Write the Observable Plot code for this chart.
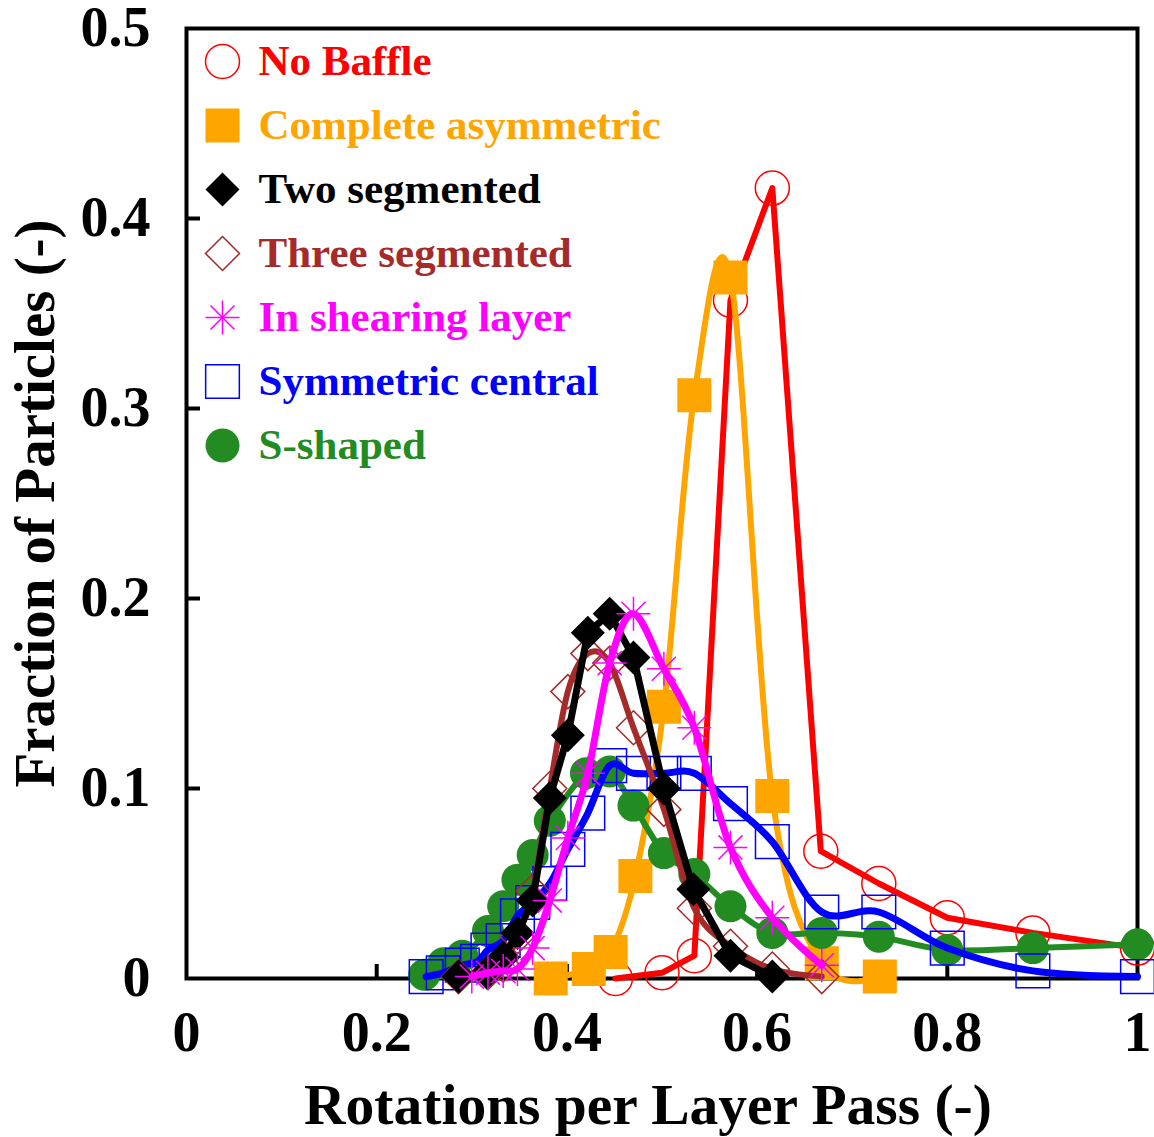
<!DOCTYPE html>
<html><head><meta charset="utf-8">
<script src="https://cdn.jsdelivr.net/npm/d3@7"></script>
<script src="https://cdn.jsdelivr.net/npm/@observablehq/plot@0.6"></script>
<style>
body{margin:0;background:#fff;}
#wrap{position:relative;width:1154px;height:1137px;}
#legend{position:absolute;left:186px;top:28px;}
</style></head><body><div id="wrap"><div id="chart"></div><div id="legend"></div></div>
<script>
const seriesNames = ["No Baffle","Complete asymmetric","Two segmented","Three segmented","In shearing layer","Symmetric central","S-shaped"];
const seriesColors = ["#ff0000","#ffa500","#000000","#a52a2a","#ff00ff","#0000ff","#228b22"];

const xTicks = [0, 0.2, 0.4, 0.6, 0.8, 1];
const yTicks = [0, 0.1, 0.2, 0.3, 0.4, 0.5];

const noBaffleX = [0.451, 0.500, 0.534, 0.572, 0.616, 0.667, 0.728, 0.800, 0.890, 1.0];
const noBaffleY = [0.000, 0.003, 0.012, 0.357, 0.416, 0.067, 0.050, 0.032, 0.024, 0.016];

const completeX = [0.383, 0.423, 0.446, 0.472, 0.502, 0.534, 0.572, 0.616, 0.668, 0.729];
const completeY = [0.000, 0.005, 0.014, 0.054, 0.143, 0.307, 0.369, 0.096, 0.008, 0.001];

const twoSegX = [0.286, 0.316, 0.333, 0.348, 0.364, 0.382, 0.401, 0.422, 0.445, 0.470, 0.502, 0.533, 0.572, 0.616];
const twoSegY = [0.001, 0.003, 0.011, 0.024, 0.041, 0.095, 0.128, 0.182, 0.192, 0.169, 0.100, 0.047, 0.012, 0.001];

const threeSegX = [0.286, 0.317, 0.333, 0.348, 0.364, 0.382, 0.401, 0.422, 0.445, 0.470, 0.502, 0.534, 0.572, 0.616, 0.668];
const threeSegY = [0.001, 0.003, 0.007, 0.022, 0.046, 0.100, 0.151, 0.171, 0.166, 0.132, 0.089, 0.037, 0.017, 0.005, 0.001];

const shearX = [0.300, 0.317, 0.333, 0.348, 0.364, 0.382, 0.401, 0.422, 0.445, 0.470, 0.502, 0.534, 0.572, 0.616, 0.668];
const shearY = [0.001, 0.003, 0.004, 0.005, 0.016, 0.041, 0.074, 0.108, 0.166, 0.192, 0.163, 0.132, 0.069, 0.032, 0.007];

const symX = [0.252, 0.270, 0.290, 0.306, 0.317, 0.333, 0.348, 0.364, 0.382, 0.401, 0.422, 0.445, 0.470, 0.502, 0.534, 0.572, 0.616, 0.668, 0.728, 0.800, 0.890, 1.0];
const symY = [0.001, 0.003, 0.007, 0.009, 0.015, 0.020, 0.033, 0.040, 0.050, 0.068, 0.087, 0.112, 0.108, 0.108, 0.108, 0.092, 0.072, 0.035, 0.035, 0.016, 0.004, 0.001];

const sShapeX = [0.250, 0.270, 0.290, 0.317, 0.333, 0.348, 0.364, 0.382, 0.420, 0.445, 0.470, 0.502, 0.534, 0.572, 0.616, 0.668, 0.728, 0.800, 0.890, 1.0];
const sShapeY = [0.002, 0.008, 0.012, 0.025, 0.038, 0.052, 0.065, 0.083, 0.108, 0.109, 0.091, 0.066, 0.055, 0.038, 0.024, 0.024, 0.022, 0.015, 0.016, 0.018];

const zip = (xs, ys) => xs.map((x, i) => ({x, y: ys[i]}));

const asterisk8 = {
  draw(context, size) {
    const r = Math.sqrt(size / Math.PI), d = r * Math.SQRT1_2;
    context.moveTo(0, -r); context.lineTo(0, r);
    context.moveTo(-r, 0); context.lineTo(r, 0);
    context.moveTo(-d, -d); context.lineTo(d, d);
    context.moveTo(-d, d); context.lineTo(d, -d);
  }
};

const series = [
  {name: seriesNames[0], color: seriesColors[0], data: zip(noBaffleX, noBaffleY), curve: "linear", symbol: "circle", r: 17, filled: false, sw: 6},
  {name: seriesNames[1], color: seriesColors[1], data: zip(completeX, completeY), curve: "cardinal", symbol: "square", r: 19.2, filled: true, sw: 6},
  {name: seriesNames[6], color: seriesColors[6], data: zip(sShapeX, sShapeY), curve: "catmull-rom", symbol: "circle", r: 16, filled: true, sw: 6},
  {name: seriesNames[5], color: seriesColors[5], data: zip(symX, symY), curve: "cardinal", symbol: "square", r: 19, filled: false, sw: 7},
  {name: seriesNames[3], color: seriesColors[3], data: zip(threeSegX, threeSegY), curve: "cardinal", symbol: "diamond2", r: 15.3, filled: false, sw: 6},
  {name: seriesNames[2], color: seriesColors[2], data: zip(twoSegX, twoSegY), curve: "linear", symbol: "diamond2", r: 15.3, filled: true, sw: 7},
  {name: seriesNames[4], color: seriesColors[4], data: zip(shearX, shearY), curve: "catmull-rom", symbol: asterisk8, r: 17, filled: false, sw: 7}
];

const font = "'Liberation Serif', 'Times New Roman', serif";
const marks = [
  Plot.frame({stroke: "black", strokeWidth: 4}),
  Plot.tickX(xTicks.slice(1, -1), {x: d => d, insetTop: 936, stroke: "black", strokeWidth: 4}),
  Plot.tickY(yTicks.slice(1, -1), {y: d => d, insetRight: 937, stroke: "black", strokeWidth: 4}),
  Plot.axisX(xTicks, {tickSize: 0, tickPadding: 33, fontSize: 56, fontWeight: "bold", tickFormat: d => String(d), label: null}),
  Plot.axisY(yTicks, {tickSize: 0, tickPadding: 36, fontSize: 56, fontWeight: "bold", tickFormat: d => String(d), label: null}),
  Plot.text(["Rotations per Layer Pass (-)"], {frameAnchor: "bottom", textAnchor: "middle", lineAnchor: "middle", dx: -14, dy: 127, fontSize: 57.5, fontWeight: "bold", fill: "black"}),
  Plot.text(["Fraction of Particles (-)"], {frameAnchor: "left", textAnchor: "middle", lineAnchor: "middle", dx: -151, rotate: -90, fontSize: 57, fontWeight: "bold", fill: "black"})
];
for (const s of series) {
  marks.push(Plot.line(s.data, {x: "x", y: "y", curve: s.curve, tension: 0, stroke: s.color, strokeWidth: s.sw, strokeLinejoin: "round"}));
  marks.push(Plot.dot(s.data, {x: "x", y: "y", symbol: s.symbol, r: s.r,
    fill: s.filled ? s.color : "none", stroke: s.filled ? "none" : s.color, strokeWidth: 1.5}));
}

const chart = Plot.plot({
  width: 1154, height: 1137,
  marginLeft: 186, marginRight: 17, marginTop: 28, marginBottom: 159,
  x: {domain: [0, 1]},
  y: {domain: [0, 0.5]},
  style: {fontFamily: font, background: "white", overflow: "visible"},
  marks
});
document.getElementById("chart").append(chart);

// legend (in original order)
const legendSymbols = ["circle", "square", "diamond2", "diamond2", asterisk8, "square", "circle"];
const legendR = [17, 19.2, 15.3, 15.3, 17, 19, 17];
const legendFilled = [false, true, true, false, false, false, true];
const legendRows = seriesNames.map((n, i) => ({name: n, i}));
const legend = Plot.plot({
  width: 520, height: 460,
  marginTop: 31, marginBottom: 41, marginLeft: 0, marginRight: 0,
  y: {type: "point", domain: seriesNames, padding: 0, axis: null},
  style: {fontFamily: font, background: "transparent", overflow: "visible"},
  marks: [
    ...legendRows.map(row => Plot.dot([row], {y: "name", frameAnchor: "left", dx: 36,
      symbol: legendSymbols[row.i], r: legendR[row.i],
      fill: legendFilled[row.i] ? seriesColors[row.i] : "none",
      stroke: legendFilled[row.i] ? "none" : seriesColors[row.i], strokeWidth: 1.5})),
    Plot.text(legendRows, {y: "name", text: "name", frameAnchor: "left", dx: 72, textAnchor: "start",
      fontSize: 43, fontWeight: "bold", fill: d => seriesColors[d.i]})
  ]
});
document.getElementById("legend").append(legend);
</script></body></html>
